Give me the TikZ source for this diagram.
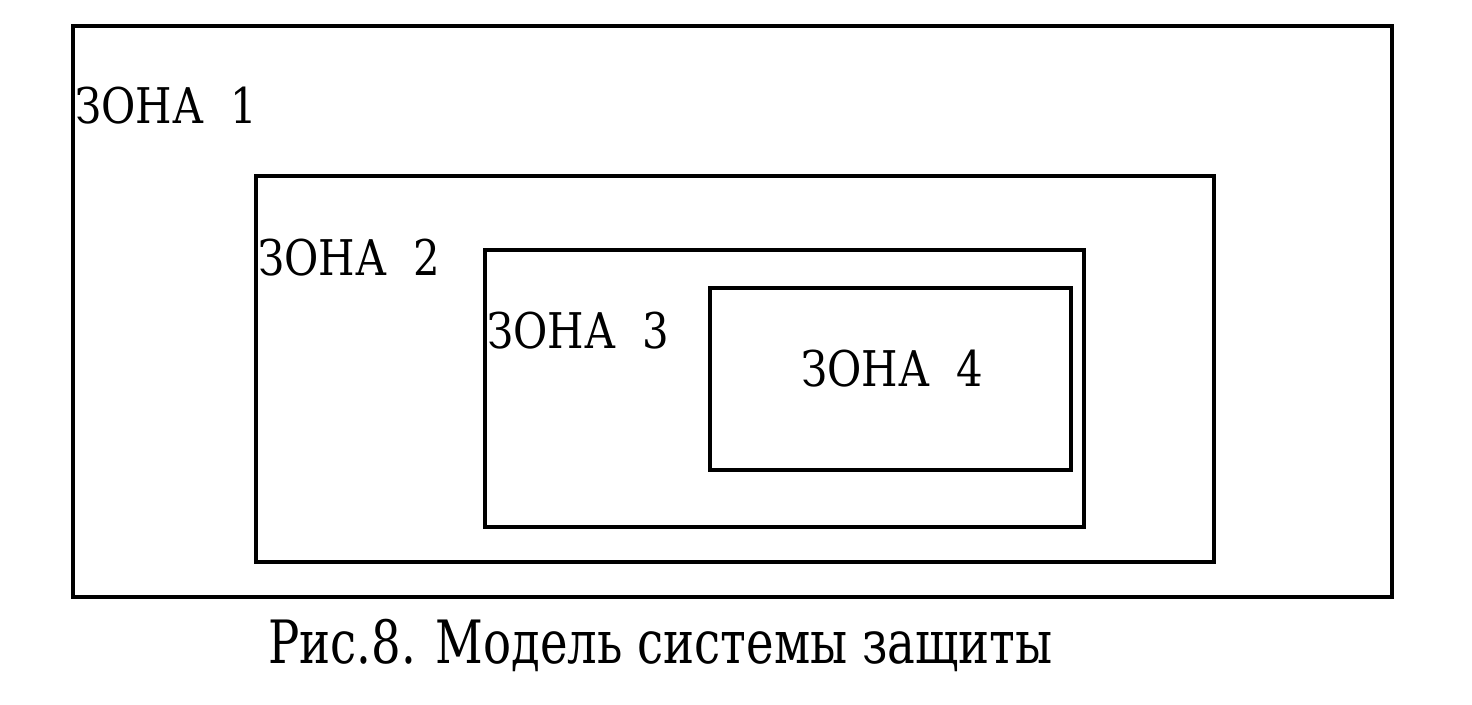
\documentclass[tikz,border=0pt]{standalone}
\usepackage{fontspec}
\setmainfont{DejaVu Serif}
\tikzset{
  zona/.style={anchor=base west, inner sep=0pt, xscale=0.85, font=\fontsize{28}{28}\selectfont},
  zonebox/.style={line width=2pt}
}
\begin{document}
\begin{tikzpicture}[x=0.02cm, y=-0.02cm, line join=miter]
\useasboundingbox (0,0) rectangle (1472,705);
% rectangles, outer to inner
\draw[zonebox] (73,26) rectangle (1392,597);
\draw[zonebox] (256,176) rectangle (1214,562);
\draw[zonebox] (485,250) rectangle (1084,527);
\draw[zonebox] (710,288) rectangle (1071,470);
% labels
\node[zona] (z1) at (75,124) {ЗОНА\ \ 1};
\node[zona] (z2) at (258,276) {ЗОНА\ \ 2};
\node[zona] (z3) at (487,349) {ЗОНА\ \ 3};
\node[zona] (z4) at (801,387) {ЗОНА\ \ 4};
\node[anchor=base west, inner sep=0pt, xscale=0.78, font=\fontsize{34}{34}\selectfont] (cap) at (268,664) {Рис.8. Модель системы защиты};
\end{tikzpicture}
\end{document}
